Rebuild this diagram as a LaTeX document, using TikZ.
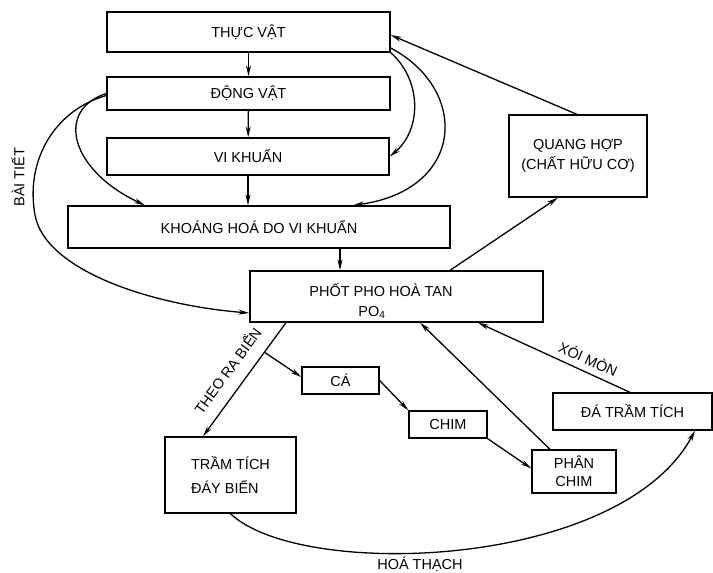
\documentclass[tikz,border=0pt]{standalone}
\usepackage{fontspec}
\setmainfont{Liberation Sans}
\usetikzlibrary{calc,arrows.meta}

\begin{document}
\begin{tikzpicture}[x=1pt,y=-1pt,line width=1.3pt,
    >={Stealth[length=11pt,width=5pt]},
    font=\fontsize{14.5}{20}\selectfont,
    box/.style={rectangle,draw,inner sep=0pt,align=center}]

  \useasboundingbox (0,0) rectangle (713,573);

  \node[box,minimum width=283pt,minimum height=40pt] (thuc vat) at (248.5,32) {THỰC VẬT};
  \node[box,minimum width=283pt,minimum height=33pt] (dong vat) at (248.5,93.5) {ĐỘNG VẬT};
  \node[box,minimum width=282pt,minimum height=37pt] (vi khuan) at (248,156.5) {VI KHUẨN};
  \node[box,minimum width=382pt,minimum height=42pt] (khoang hoa) at (259,227) {KHOÁNG HOÁ DO VI KHUẨN};
  \node[box,minimum width=293pt,minimum height=51pt] (phot pho) at (396.5,296.5) {};
  \node[align=left,inner sep=0pt] (phot pho text) at (381,301) {PHỐT PHO HOÀ TAN\\\hspace*{49pt}PO\textsubscript{4}};
  \node[box,minimum width=138pt,minimum height=82pt] (quang hop) at (578,156) {QUANG HỢP\\(CHẤT HỮU CƠ)};
  \node[box,minimum width=77pt,minimum height=27pt] (ca) at (340.5,380.5) {CÁ};
  \node[box,minimum width=78pt,minimum height=27pt] (chim) at (448,424.5) {CHIM};
  \node[box,minimum width=84pt,minimum height=43pt,font=\fontsize{14.5}{18}\selectfont] (phan chim) at (574,471.5) {PHÂN\\CHIM};
  \node[box,minimum width=159pt,minimum height=37pt] (da tram tich) at (632.5,411.5) {ĐÁ TRẦM TÍCH};
  \node[box,align=left,minimum width=131pt,minimum height=76pt,font=\fontsize{14.5}{24}\selectfont] (tram tich) at (230.5,475) {TRẦM TÍCH\\ĐÁY BIỂN};

  \draw[->] (thuc vat) -- (dong vat);
  \draw[->] (dong vat) -- (vi khuan);
  \draw[->] (vi khuan.south) -- (vi khuan.south |- khoang hoa.north);
  \draw[->] ([xshift=81pt]khoang hoa.south) -- ([xshift=-56.5pt]phot pho.north);

  \draw[->] (thuc vat.south east) .. controls (422,80) and (422,130) .. (vi khuan.east);
  \draw[->] ([yshift=-16pt]thuc vat.east) .. controls (470,90) and (465,190) .. ([xshift=94pt]khoang hoa.north);
  \draw[->] (dong vat.west) .. controls (55,110) and (70,170) .. ([xshift=-114pt]khoang hoa.north);
  \draw[->] ([yshift=-2pt]dong vat.west) .. controls (55,110) and (25,160) .. (35,215)
    .. controls (45,270) and (150,305) .. ([yshift=-16.5pt]phot pho.west);
  \node[rotate=90] (bai tiet) at (18,177) {BÀI TIẾT};

  \draw[->] ([xshift=-1pt]quang hop.north) -- ([yshift=-3pt]thuc vat.east);
  \draw[->] ([xshift=53.5pt]phot pho.north) -- ([xshift=-20pt]quang hop.south);

  \draw[->] ([xshift=-110.5pt]phot pho.south) -- coordinate[pos=0.26] (fork)
    node[pos=0.52,sloped,above=9pt] (theo ra bien) {THEO RA BIỂN} ([xshift=-27.5pt]tram tich.north);
  \draw[->] (fork) -- ([yshift=3.5pt]ca.west);
  \draw[->] (ca.east) -- (chim.north west);
  \draw[->] (chim.south east) -- ([yshift=3pt]phan chim.west);
  \draw[->] ([xshift=-24pt]phan chim.north) -- ([xshift=23.5pt]phot pho.south);
  \draw[->] ([xshift=-2.5pt]da tram tich.north) -- node[pos=0.31,sloped,above=3pt] (xoi mon) {XÓI MÒN}
    ([xshift=81.5pt]phot pho.south);

  \draw[->] (tram tich.south) .. controls (300,580) and (620,570) .. ([xshift=62.5pt]da tram tich.south);
  \node (hoa thach) at (420,564) {HOÁ THẠCH};

\end{tikzpicture}
\end{document}
